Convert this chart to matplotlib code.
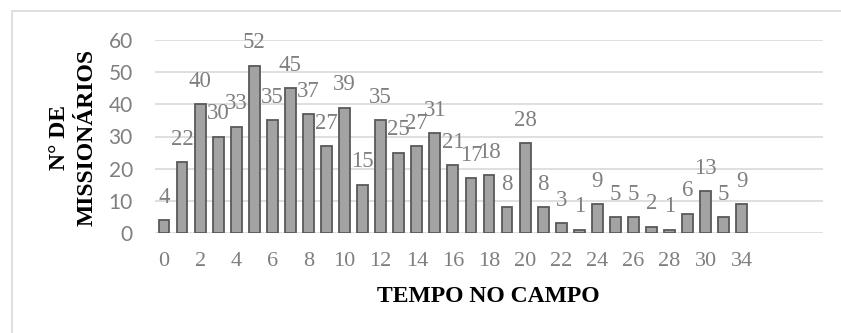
import matplotlib
matplotlib.use("Agg")
import matplotlib.pyplot as plt
from matplotlib.patches import Rectangle

# Tempo no campo (anos) e número de missionários
tempo = list(range(0, 32)) + [34]
missionarios = [4, 22, 40, 30, 33, 52, 35, 45, 37, 27, 39, 15, 35, 25, 27, 31,
                21, 17, 18, 8, 28, 8, 3, 1, 9, 5, 5, 2, 1, 6, 13, 5, 9]
n_vazios = 4  # categorias vazias no fim do eixo

cinza_texto = '#7f7f7f'
cinza_grade = '#d9d9d9'

fig = plt.figure(figsize=(8.41, 3.33), dpi=100)
ax = fig.add_axes([155 / 841, 1 - 233 / 333, 668 / 841, 193 / 333])

# moldura do gráfico
fig.patches.append(Rectangle((12 / 841, -0.1), 1.0, 1 - 11 / 333 + 0.1,
                             transform=fig.transFigure, fill=False,
                             edgecolor=cinza_grade, linewidth=1.2))

x = list(range(len(tempo)))
bars = ax.bar(x, missionarios, width=0.6, color='#a3a3a3',
              edgecolor='#595959', linewidth=1.3, zorder=3)

for xi, v in zip(x, missionarios):
    ax.annotate(str(v), (xi, v), xytext=(0, 16.5), textcoords='offset points',
                ha='center', va='center', fontsize=16.5, color=cinza_texto,
                family='Liberation Serif', zorder=4)

ax.set_xlim(-0.5, len(tempo) + n_vazios - 0.5)
ax.set_ylim(0, 60)
ax.set_yticks(range(0, 61, 10))
ax.yaxis.grid(True, color=cinza_grade, linewidth=1.2, zorder=0)
ax.set_axisbelow(True)

rotulos = [str(t) if i % 2 == 0 else '' for i, t in enumerate(tempo)]
ax.set_xticks(x)
ax.set_xticklabels(rotulos, family='Liberation Serif', fontsize=16, color=cinza_texto)
for lbl in ax.get_yticklabels():
    lbl.set_family('Lato')
    lbl.set_fontsize(15)
    lbl.set_color(cinza_texto)
ax.tick_params(axis='x', length=0, pad=14)
ax.tick_params(axis='y', length=0, pad=16)

for s in ax.spines.values():
    s.set_visible(False)

fig.text(488 / 841, 1 - 297 / 333, 'TEMPO NO CAMPO', ha='center', va='center',
         family='Liberation Serif', fontweight='bold', fontsize=17)
fig.text(73 / 841, 1 - 138 / 333, 'N° DE\nMISSIONÁRIOS', ha='center', va='center',
         rotation=90, family='Liberation Serif', fontweight='bold', fontsize=17,
         linespacing=1.4, multialignment='center')

fig.savefig('out.png', dpi=100, facecolor='white')
